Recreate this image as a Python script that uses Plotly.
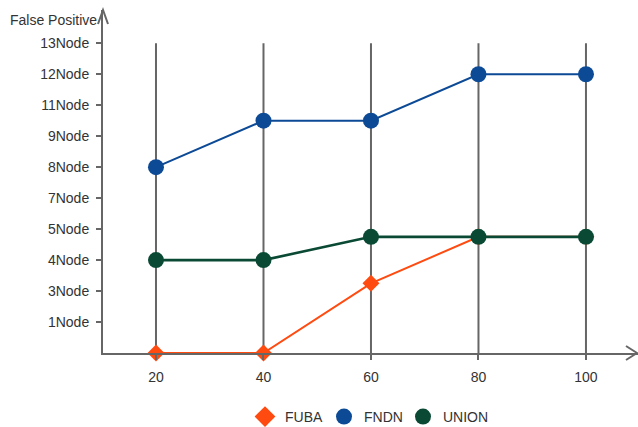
import plotly.graph_objects as go

categories = ["20", "40", "60", "80", "100"]
fuba = [0, 0, 3, 5, 5]
fndn = [8, 10, 10, 12, 12]
union = [4, 4, 5, 5, 5]
tick_labels = ["1Node", "3Node", "4Node", "5Node", "7Node", "8Node", "9Node", "11Node", "12Node", "13Node"]
tick_step = 4 / 3
tick_vals = [tick_step * (i + 1) for i in range(len(tick_labels))]
y_title = "False Positive"

AX = "#666666"
FONT = dict(family="Liberation Sans, Arial, sans-serif", size=14, color="#333333")

xi = list(range(len(categories)))

fig = go.Figure()
series = [
    ("FUBA", fuba, "#FF4A10", "diamond", 13, 2),
    ("FNDN", fndn, "#0D4A96", "circle", 16, 2),
    ("UNION", union, "#0A4A35", "circle", 16, 2.6),
]
for name, vals, col, sym, sz, lw in series:
    fig.add_trace(go.Scatter(
        x=xi, y=vals, name=name, mode="lines+markers",
        line=dict(color=col, width=lw),
        marker=dict(color=col, symbol=sym, size=sz),
        cliponaxis=False, showlegend=False, legendgroup=name,
    ))
for name, vals, col, sym, sz, lw in series:
    fig.add_trace(go.Scatter(
        x=[None], y=[None], name=name, mode="markers",
        marker=dict(color=col, symbol=sym, size=17),
        showlegend=True, legendgroup=name,
    ))
# invisible spacer entry so the last legend label is not clipped
fig.add_trace(go.Scatter(x=[None], y=[None], name=" ", mode="markers",
                         marker=dict(color="rgba(0,0,0,0)", size=1), showlegend=True,
                         hoverinfo="skip"))

ytop = tick_vals[-1]
for i in xi:
    fig.add_shape(type="line", xref="x", yref="y", x0=i, x1=i, y0=0, y1=ytop,
                  line=dict(color=AX, width=2), layer="below")

# plot area pixels: x 103..638 (535), y 10..353 (343)
def px(xp):
    return (xp - 103) / 535.0
def py(yp):
    return (353 - yp) / 343.0

fig.add_shape(type="path", xref="paper", yref="paper",
              path=f"M {px(98)} {py(24)} L {px(103)} {py(10)} L {px(108)} {py(24)}",
              line=dict(color=AX, width=2), layer="above")
fig.add_shape(type="path", xref="paper", yref="paper",
              path=f"M {px(626)} {py(346)} L {px(637)} {py(353)} L {px(626)} {py(360)}",
              line=dict(color=AX, width=2), layer="above")

fig.add_annotation(text=y_title, xref="paper", yref="paper", x=px(99), y=py(20),
                   xanchor="right", yanchor="middle", showarrow=False, font=FONT)

fig.update_layout(
    width=638, height=427,
    margin=dict(l=103, r=0, t=10, b=74, autoexpand=False),
    paper_bgcolor="white", plot_bgcolor="white",
    font=FONT,
    showlegend=True,
    legend=dict(orientation="h", x=px(245), xanchor="left", y=py(417), yanchor="middle",
                font=FONT, itemwidth=30, bgcolor="rgba(0,0,0,0)",
                entrywidth=34, entrywidthmode="pixels"),
    xaxis=dict(range=[-0.493, 4.484], tickvals=xi, ticktext=categories,
               showgrid=False, zeroline=False, showline=True, linecolor=AX, linewidth=2,
               ticks="outside", ticklen=5, tickwidth=2, tickcolor=AX,
               ticklabelstandoff=5, tickfont=FONT),
    yaxis=dict(range=[0, 343 / 23.23], tickvals=tick_vals, ticktext=tick_labels,
               showgrid=False, zeroline=False, showline=True, linecolor=AX, linewidth=2,
               ticks="outside", ticklen=5, tickwidth=2, tickcolor=AX,
               ticklabelstandoff=4, tickfont=FONT),
)

fig.write_html("out.html")
